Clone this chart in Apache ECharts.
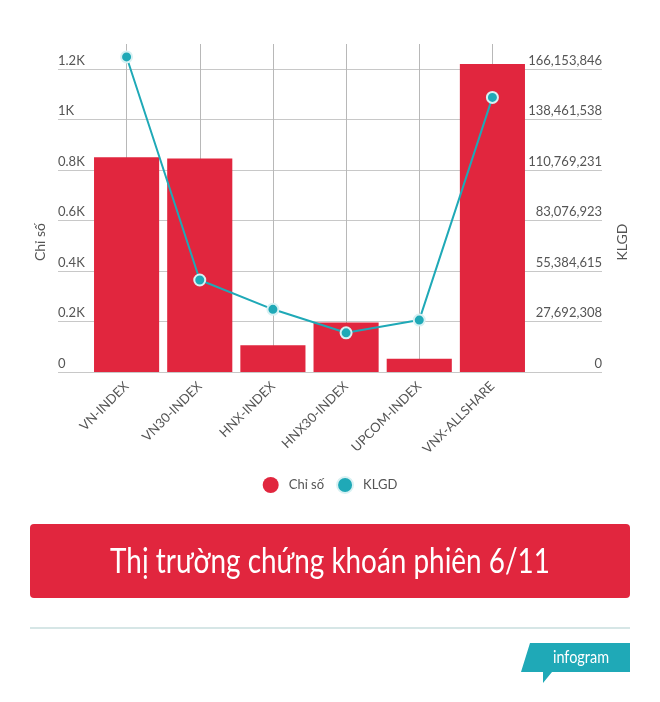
<!DOCTYPE html>
<html>
<head>
<meta charset="utf-8">
<script src="https://cdn.jsdelivr.net/npm/echarts@6/dist/echarts.min.js"></script>
<style>
html,body{margin:0;padding:0;background:#fff;}
#c{width:660px;height:702px;}
</style>
</head>
<body>
<div id="c"></div>
<script>
var categories = ['VN-INDEX','VN30-INDEX','HNX-INDEX','HNX30-INDEX','UPCOM-INDEX','VNX-ALLSHARE'];
var chiSo = [851, 846, 106, 196, 53, 1221];
var klgd = [172900000, 50500000, 34400000, 21500000, 28500000, 150700000];
var leftMax = 1300, leftStep = 200;
var rightMax = 180000000, rightStep = 180000000 / 6.5;

var FONT = 'Lato, "Open Sans", sans-serif';
var RED = '#E1263E', TEAL = '#1FA9B7';

var chart = echarts.init(document.getElementById('c'), null, {renderer:'canvas'});
chart.setOption({
  animation: false,
  textStyle: {fontFamily: FONT},
  grid: [
    {left: 90, right: 131, top: 44, bottom: 330},
    {left: 58, right: 58, top: 44, bottom: 330}
  ],
  legend: {
    top: 471, left: 'center',
    icon: 'circle', itemWidth: 16, itemHeight: 16, itemGap: 12,
    textStyle: {color: '#555', fontSize: 13, fontFamily: FONT, padding: [0,0,0,5]},
    data: ['Chỉ số', 'KLGD']
  },
  xAxis: [
    {type: 'category', gridIndex: 0, data: categories, boundaryGap: true,
     axisLine: {show: false}, axisTick: {show: false},
     splitLine: {show: true, alignWithLabel: true, lineStyle: {color: '#b8b8b8', width: 1}},
     axisLabel: {rotate: 45, color: '#555', fontSize: 13, margin: 12, interval: 0, fontFamily: FONT}},
    {type: 'value', gridIndex: 1, show: false, min: 0, max: 1}
  ],
  yAxis: [
    {type: 'value', gridIndex: 0, min: 0, max: leftMax, interval: leftStep, show: false},
    {type: 'value', gridIndex: 0, min: 0, max: rightMax, interval: rightStep, show: false, position: 'right'},
    {type: 'value', gridIndex: 1, min: 0, max: leftMax, interval: leftStep, position: 'left',
     axisLine: {show: false}, axisTick: {show: false},
     splitLine: {show: true, showMaxLine: false, lineStyle: {color: '#c8c8c8', width: 1}},
     axisLabel: {inside: true, margin: 0, align: 'left', verticalAlign: 'bottom', padding: [0,0,2,0],
       color: '#555', fontSize: 13, fontFamily: FONT, showMaxLabel: false,
       formatter: function(v){ return v === 0 ? '0' : (v/1000) + 'K'; }}},
    {type: 'value', gridIndex: 1, min: 0, max: rightMax, interval: rightStep, position: 'right',
     axisLine: {show: false}, axisTick: {show: false}, splitLine: {show: false},
     axisLabel: {inside: true, margin: 0, align: 'right', verticalAlign: 'bottom', padding: [0,0,2,0],
       color: '#555', fontSize: 13, fontFamily: FONT, showMaxLabel: false,
       formatter: function(v){ return Math.round(v).toLocaleString('en-US'); }}}
  ],
  series: [
    {name: 'Chỉ số', type: 'bar', xAxisIndex: 0, yAxisIndex: 0, data: chiSo,
     barCategoryGap: '11%', itemStyle: {color: RED}, z: 2},
    {name: 'KLGD', type: 'line', xAxisIndex: 0, yAxisIndex: 1, data: klgd,
     symbol: 'circle', symbolSize: 11, showAllSymbol: true,
     lineStyle: {color: TEAL, width: 2},
     itemStyle: {color: TEAL, borderColor: '#d8f1f3', borderWidth: 2}, z: 3}
  ],
  graphic: [
    {type: 'text', x: 40, y: 242, rotation: Math.PI/2,
     style: {text: 'Chỉ số', fill: '#555', fontSize: 14, fontFamily: FONT, align: 'center', verticalAlign: 'middle'}},
    {type: 'text', x: 622, y: 242, rotation: Math.PI/2,
     style: {text: 'KLGD', fill: '#555', fontSize: 14, fontFamily: FONT, align: 'center', verticalAlign: 'middle'}},
    {type: 'rect', shape: {x: 30, y: 524, width: 600, height: 74, r: 4}, style: {fill: RED}},
    {type: 'text', x: 330, y: 562, scaleX: 0.82,
     style: {text: 'Thị trường chứng khoán phiên 6/11', fill: '#fff', fontSize: 34,
       fontFamily: FONT, align: 'center', verticalAlign: 'middle'}},
    {type: 'rect', shape: {x: 30, y: 627, width: 600, height: 2}, style: {fill: '#d6e6e6'}},
    {type: 'polygon', shape: {points: [[530,643],[630,643],[630,672],[552,672],[543,683],[543,672],[521,672]]}, style: {fill: TEAL}},
    {type: 'text', x: 581, y: 658, scaleX: 0.85,
     style: {text: 'infogram', fill: '#fff', fontSize: 17, fontFamily: FONT, align: 'center', verticalAlign: 'middle'}}
  ]
});
</script>
</body>
</html>
